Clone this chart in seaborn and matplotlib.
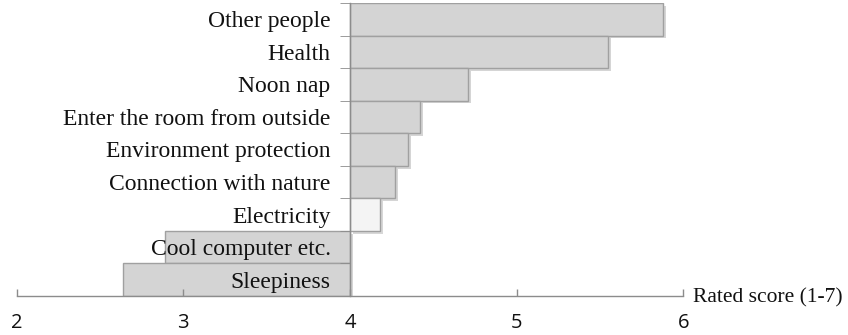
import numpy as np
import pandas as pd
import seaborn as sns
import matplotlib.pyplot as plt
from matplotlib.ticker import MultipleLocator
import matplotlib.patheffects as pe

factors = ['Other people', 'Health', 'Noon nap', 'Enter the room from outside',
           'Environment protection', 'Connection with nature', 'Electricity',
           'Cool computer etc.', 'Sleepiness']
scores = [5.88, 5.55, 4.71, 4.42, 4.35, 4.27, 4.18, 2.89, 2.64]
bar_colors = ['#d4d4d4'] * 6 + ['#f4f4f4'] + ['#d4d4d4'] * 2
neutral = 4

df = pd.DataFrame({'factor': factors, 'score': scores})
df['delta'] = df['score'] - neutral

sns.set_style('white')
plt.rcParams['font.family'] = ['Liberation Serif', 'DejaVu Serif']

fig = plt.figure(figsize=(8.48, 3.35), dpi=100)
ax = fig.add_axes([16.7 / 848, 1 - 296 / 335, (683.3 - 16.7) / 848, 293 / 335])

sns.barplot(data=df, x='delta', y='factor', hue='factor', palette=bar_colors,
            legend=False, orient='h', width=1.0, left=neutral,
            edgecolor='#a0a0a0', linewidth=1.0, ax=ax,
            path_effects=[pe.SimplePatchShadow(offset=(2, -2), alpha=0.22), pe.Normal()])

ax.set_axisbelow(False)
ax.set_xlim(2, 6)
ax.set_ylim(len(factors) - 0.5, -0.5)
ax.set_xticks([2, 3, 4, 5, 6])

for s in ['top', 'right']:
    ax.spines[s].set_visible(False)
ax.spines['left'].set_position(('data', neutral))
for s in ['left', 'bottom']:
    ax.spines[s].set_color('#8c8c8c')
    ax.spines[s].set_linewidth(1.0)

ax.tick_params(axis='x', direction='in', length=5, width=1, color='#8c8c8c',
               bottom=True, pad=12, labelsize=14.5, labelcolor='#111111')
for t in ax.get_xticklabels():
    t.set_fontfamily(['Open Sans', 'DejaVu Sans'])
ax.yaxis.set_minor_locator(MultipleLocator(1, offset=0.5))
ax.tick_params(axis='y', which='major', length=0, pad=14, labelsize=17,
               labelcolor='#111111')
ax.tick_params(axis='y', which='minor', direction='out', length=7,
               color='#8c8c8c', left=True)

ax.set_ylabel('')
ax.set_xlabel('Rated score (1-7)', fontsize=15.5, ha='left', va='center',
              color='#111111')
ax.xaxis.set_label_coords(1.015, -0.005)

fig.savefig('out.png', dpi=100)
